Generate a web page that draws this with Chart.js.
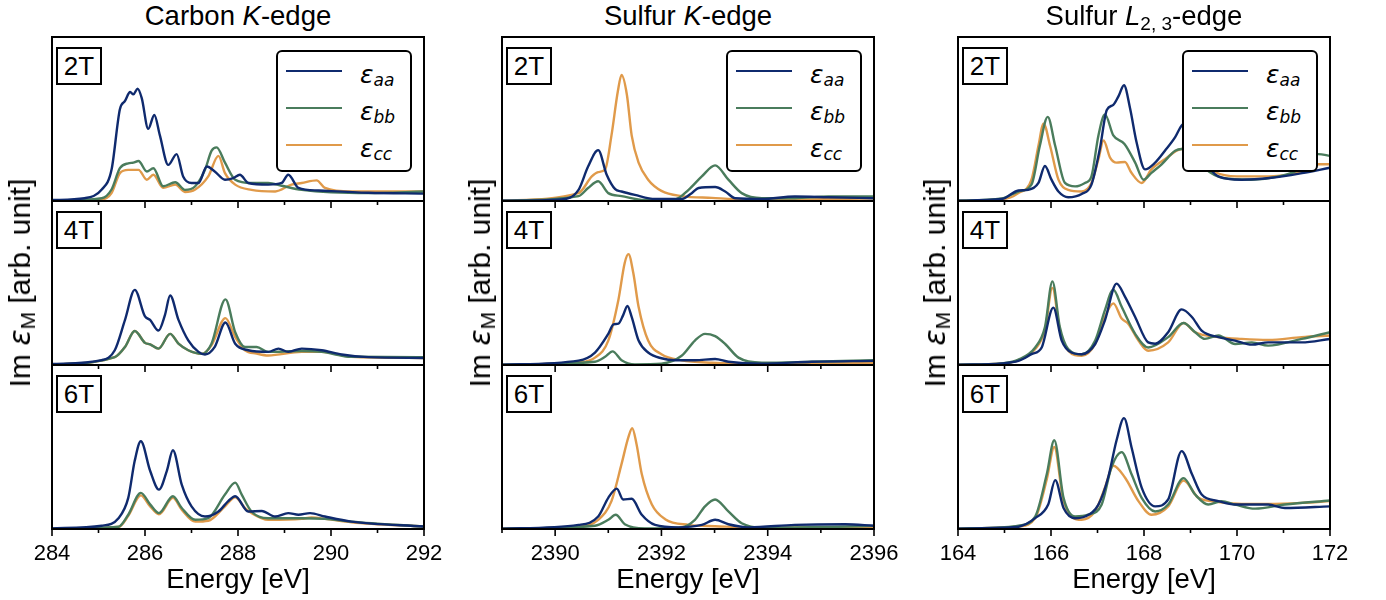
<!DOCTYPE html>
<html>
<head>
<meta charset="utf-8">
<script src="https://cdn.jsdelivr.net/npm/chart.js@4.4.1/dist/chart.umd.min.js"></script>
<style>
  body { margin: 0; background: #fff; }
  #fig { position: relative; width: 1386px; height: 600px; overflow: hidden; background: #fff;
         font-family: "Liberation Sans", Arial, sans-serif; color: #000; }
  #fig canvas { position: absolute; }
  .title { position: absolute; top: 1px; width: 372px; text-align: center; font-size: 27.5px; line-height: 30px; white-space: nowrap; }
  .title .sub { font-size: 19px; vertical-align: -5px; line-height: 1; }
  .ylabel { position: absolute; font-size: 30px; line-height: 32px; white-space: nowrap;
            transform: translate(-50%, -50%) rotate(-90deg); }
  .ylabel .eps { font-family: "DejaVu Sans"; font-style: italic; }
  .ylabel .subM { font-size: 21px; vertical-align: -5px; line-height: 1; }
  .tag { position: absolute; width: 42px; height: 34px; border: 2px solid #000; background: #fff;
         font-size: 26px; line-height: 35px; text-align: center; }
  .legend { position: absolute; width: 132px; height: 118px; border: 2px solid #000; border-radius: 6px; background: #fff; }
  .legend .sw { position: absolute; left: 8px; width: 56px; height: 2.5px; }
  .legend .lab { position: absolute; left: 82px; font-family: "DejaVu Sans"; font-style: italic; font-size: 25px; line-height: 25px; white-space: nowrap; }
  .legend .lab .s { font-size: 17px; vertical-align: -3px; line-height: 1; }
</style>
</head>
<body>
<div id="fig"></div>
<script>
// ---- Carbon K-edge (eV, Im eps) ----
const carbon2T_E_aa = [284.0, 284.7, 285.07, 285.28, 285.46, 285.57, 285.68, 285.75, 285.84, 285.93, 286.07, 286.2, 286.32, 286.5, 286.68, 286.82, 287.0, 287.15, 287.33, 287.5, 287.72, 287.9, 288.04, 288.22, 288.65, 288.94, 289.08, 289.3, 289.73, 290.8, 292.0];
const carbon2T_aa   = [0.6, 1.7, 7, 19, 56, 61, 66.5, 65, 68.5, 62.7, 44, 52.4, 40, 22, 28.6, 15, 11, 11, 21, 18, 13, 14, 16, 11, 10, 11, 16, 8, 6.4, 5, 4.5];
const carbon2T_E_bb = [284.0, 285.07, 285.28, 285.46, 285.64, 285.75, 285.86, 286.04, 286.18, 286.39, 286.65, 286.86, 287.08, 287.29, 287.43, 287.54, 287.72, 287.94, 288.29, 288.65, 288.94, 289.37, 290.8, 292.0];
const carbon2T_bb   = [0.2, 1.7, 7, 20, 23, 23.4, 24.4, 18, 20, 9, 11.4, 6.8, 9, 19, 30.6, 32.7, 23.4, 13, 11, 11, 9.3, 6.8, 4.8, 5.8];
const carbon2T_E_cc = [284.0, 285.07, 285.28, 285.46, 285.64, 285.86, 286.04, 286.18, 286.39, 286.65, 286.86, 287.08, 287.36, 287.58, 287.72, 287.94, 288.29, 288.8, 289.15, 289.37, 289.69, 289.87, 290.44, 292.0];
const carbon2T_cc   = [0.2, 1, 4.8, 17, 19, 19, 13, 16, 8, 10, 5.5, 7, 15, 27.5, 17, 10, 6.8, 5.8, 10, 11, 12.6, 8, 5.8, 5.8];

const carbon4T_E_aa = [284.0, 285.07, 285.35, 285.57, 285.78, 286.0, 286.11, 286.29, 286.43, 286.54, 286.72, 286.93, 287.15, 287.29, 287.5, 287.73, 287.94, 288.22, 288.65, 288.87, 289.08, 289.37, 289.8, 290.23, 290.8, 292.0];
const carbon4T_aa   = [0.6, 3, 9, 27.5, 45.8, 29.6, 27.5, 21, 30.6, 42.4, 27.5, 15, 8, 6.4, 11, 25.9, 13, 9, 8, 10, 8, 10, 9, 6.4, 4.8, 4.3];
const carbon4T_E_bb = [284.0, 285.35, 285.57, 285.78, 286.0, 286.11, 286.29, 286.54, 286.72, 286.93, 287.22, 287.43, 287.73, 287.94, 288.15, 288.4, 288.65, 289.37, 289.8, 290.44, 292.0];
const carbon4T_bb   = [0.2, 4.8, 11, 20.7, 13.5, 12.6, 10, 19, 13, 9, 6.8, 13, 40, 20, 11, 11, 8, 8.5, 8, 5, 4.8];
const carbon4T_E_cc = [284.0, 285.35, 285.57, 285.78, 286.0, 286.11, 286.29, 286.54, 286.72, 286.93, 287.22, 287.43, 287.73, 287.94, 288.15, 288.4, 288.65, 289.37, 289.8, 290.44, 292.0];
const carbon4T_cc   = [0.2, 4.8, 11, 20.7, 13.5, 12.6, 10, 19, 13, 9, 6.8, 12, 28.6, 17, 9, 7, 5.8, 8, 8, 5, 4.3];

const carbon6T_E_aa = [284.0, 285.07, 285.43, 285.64, 285.78, 285.91, 286.11, 286.3, 286.47, 286.6, 286.79, 287.0, 287.29, 287.58, 287.79, 287.94, 288.22, 288.51, 288.8, 289.08, 289.3, 289.55, 289.87, 290.44, 292.0];
const carbon6T_aa   = [0.4, 2, 6.6, 19, 41.7, 53.5, 35.5, 24, 35.5, 48, 27, 13.8, 7.6, 10.7, 17, 20, 10.7, 11, 7.6, 9.7, 8.7, 9.7, 7.6, 4.5, 1.5];
const carbon6T_E_bb = [284.0, 285.43, 285.64, 285.91, 286.11, 286.3, 286.6, 286.79, 287.08, 287.36, 287.72, 287.94, 288.08, 288.29, 288.65, 289.37, 289.87, 290.44, 292.0];
const carbon6T_bb   = [0.2, 1.4, 8.7, 22, 15, 9.7, 20, 12.8, 5.6, 6.6, 21, 28.3, 21, 10.7, 6.6, 6.6, 6.2, 4.5, 1.5];
const carbon6T_E_cc = [284.0, 285.43, 285.64, 285.91, 286.11, 286.3, 286.6, 286.79, 287.08, 287.36, 287.72, 287.94, 288.15, 288.29, 288.65, 289.37, 289.58, 289.87, 290.44, 292.0];
const carbon6T_cc   = [0.2, 1.2, 8, 20.5, 13.8, 9, 19, 11.8, 4.5, 5, 13.8, 19.4, 12.8, 9.7, 5.6, 6.2, 7, 6.2, 4.1, 1.5];

// ---- Sulfur K-edge ----
const sulfK2T_E_aa = [2389.0, 2390.12, 2390.44, 2390.62, 2390.81, 2390.97, 2391.13, 2391.25, 2391.5, 2391.88, 2392.38, 2392.57, 2392.7, 2393.01, 2393.2, 2393.39, 2393.89, 2394.51, 2395.14, 2396.0];
const sulfK2T_aa   = [0.2, 1, 6.8, 21, 31, 16, 7.2, 5.8, 3.7, 1.2, 1.2, 4.8, 7.9, 8.5, 5.8, 1.7, 1.2, 2.7, 2.3, 1.7];
const sulfK2T_E_bb = [2389.0, 2390.44, 2390.62, 2390.81, 2391.0, 2391.25, 2391.69, 2392.26, 2392.51, 2392.76, 2393.01, 2393.26, 2393.51, 2393.89, 2394.51, 2395.14, 2396.0];
const sulfK2T_bb   = [0.2, 3, 7.9, 12, 4.8, 3, 0.6, 1, 6.8, 15, 21.7, 13, 4.8, 1.7, 1.7, 2.7, 2.7];
const sulfK2T_E_cc = [2389.0, 2390.44, 2390.69, 2390.81, 2390.94, 2391.06, 2391.18, 2391.25, 2391.35, 2391.44, 2391.57, 2391.75, 2392.0, 2392.38, 2392.95, 2393.57, 2394.51, 2396.0];
const sulfK2T_cc   = [0.2, 4.8, 15, 17.6, 19.2, 40, 66.9, 76.8, 64.8, 40, 23.4, 13, 6.2, 3, 1.9, 1, 1, 1.7];

const sulfK4T_E_aa = [2389.0, 2390.44, 2390.75, 2391.0, 2391.1, 2391.19, 2391.28, 2391.36, 2391.44, 2391.57, 2391.75, 2392.0, 2392.26, 2392.63, 2393.01, 2393.26, 2393.89, 2394.83, 2396.0];
const sulfK4T_aa   = [0.2, 2.7, 7.6, 19, 24.8, 25.2, 30.4, 36, 29.3, 14.9, 7.6, 4.1, 2.9, 2.9, 3.7, 2, 0.8, 2, 2.5];
const sulfK4T_E_bb = [2389.0, 2390.75, 2390.94, 2391.08, 2391.25, 2391.5, 2392.0, 2392.38, 2392.63, 2392.82, 2393.01, 2393.2, 2393.45, 2393.89, 2394.83, 2396.0];
const sulfK4T_bb   = [0.2, 2, 5, 8.3, 2.9, 0.4, 0.8, 5.6, 14.9, 19, 17.6, 12.8, 4.5, 1.4, 2, 2.9];
const sulfK4T_E_cc = [2389.0, 2390.44, 2390.75, 2391.0, 2391.19, 2391.31, 2391.38, 2391.47, 2391.57, 2391.75, 2392.0, 2392.38, 2392.95, 2393.89, 2396.0];
const sulfK4T_cc   = [0.2, 1.7, 4.5, 14.9, 39.7, 62.4, 67.6, 56.2, 35.5, 14.9, 6.6, 2.9, 1.4, 0.8, 1.4];

const sulfK6T_E_aa = [2389.0, 2390.44, 2390.81, 2391.0, 2391.16, 2391.28, 2391.44, 2391.63, 2391.88, 2392.32, 2392.76, 2393.01, 2393.26, 2393.64, 2394.51, 2395.46, 2396.0];
const sulfK6T_aa   = [0.2, 2.5, 7.6, 19, 24.6, 18, 18.4, 8.7, 2.5, 1, 2.5, 5.6, 2.9, 1, 2.5, 2.9, 2];
const sulfK6T_E_bb = [2389.0, 2390.75, 2391.0, 2391.14, 2391.31, 2391.69, 2392.38, 2392.63, 2392.82, 2393.01, 2393.26, 2393.51, 2393.89, 2395.14, 2396.0];
const sulfK6T_bb   = [0.2, 2, 5.6, 8.7, 2.9, 0.4, 1, 5.6, 13.8, 18, 10.7, 3.5, 0.8, 1.2, 1.9];
const sulfK6T_E_cc = [2389.0, 2390.44, 2390.81, 2391.06, 2391.25, 2391.38, 2391.45, 2391.53, 2391.63, 2391.82, 2392.07, 2392.51, 2393.01, 2393.89, 2396.0];
const sulfK6T_cc   = [0.2, 1.4, 5.6, 17, 39.7, 56.2, 61.4, 52, 33.5, 14.9, 6, 2.5, 1.7, 0.8, 1.4];

// ---- Sulfur L2,3-edge ----
const sulfL2T_E_aa = [164.0, 164.94, 165.3, 165.51, 165.73, 165.87, 166.01, 166.16, 166.37, 166.66, 166.87, 167.05, 167.2, 167.34, 167.45, 167.57, 167.7, 167.84, 168.02, 168.24, 168.45, 168.67, 168.81, 168.95, 169.2, 169.6, 170.1, 170.7, 171.4, 172.0];
const sulfL2T_aa   = [0.2, 1.2, 6.4, 6.8, 11, 21.3, 13, 5.8, 2.3, 4.3, 10, 31.7, 55.5, 58.6, 63.8, 70.6, 56.5, 35.8, 19.3, 23.4, 30.6, 38.9, 46, 48, 30, 15, 13, 14, 17, 20.3];
const sulfL2T_E_bb = [164.0, 164.94, 165.3, 165.58, 165.76, 165.93, 166.09, 166.3, 166.52, 166.73, 166.87, 167.02, 167.16, 167.34, 167.58, 167.81, 167.99, 168.16, 168.38, 168.67, 168.81, 169.0, 169.3, 169.7, 170.3, 170.9, 171.4, 171.75, 172.0];
const sulfL2T_bb   = [0.2, 1.5, 5.8, 10, 33.7, 51.3, 33.7, 11, 8.9, 11, 15, 40, 52.8, 40, 34.8, 23.4, 13, 17.2, 22.4, 30.6, 31.7, 30, 20, 14, 13, 15, 20, 28.6, 27.5];
const sulfL2T_E_cc = [164.0, 164.94, 165.3, 165.58, 165.73, 165.84, 165.98, 166.16, 166.37, 166.66, 166.87, 167.02, 167.13, 167.27, 167.41, 167.59, 167.73, 167.95, 168.16, 168.45, 168.81, 169.1, 169.5, 170.0, 170.7, 171.4, 171.75, 172.0];
const sulfL2T_cc   = [0.2, 1, 4.8, 13, 33.7, 47.2, 33.7, 13, 6.8, 5.8, 11, 25.5, 36.9, 26.5, 23.4, 23.8, 17.2, 11, 19.3, 25.5, 31.7, 27, 18, 15, 15, 18, 22.4, 22.4];

const sulfL4T_E_aa = [164.0, 164.94, 165.3, 165.58, 165.8, 166.05, 166.23, 166.44, 166.66, 166.95, 167.16, 167.41, 167.59, 167.81, 168.09, 168.24, 168.52, 168.81, 169.03, 169.24, 169.6, 169.96, 170.32, 170.67, 171.39, 172.0];
const sulfL4T_aa   = [0.2, 1, 2.5, 6.6, 10.7, 35, 14.9, 7.6, 6.6, 12.8, 27.3, 49.6, 41.7, 29.3, 13.8, 13, 20, 33.9, 29.3, 21, 17, 14.9, 12.4, 13.8, 13.8, 15.9];
const sulfL4T_E_bb = [164.0, 164.94, 165.3, 165.66, 165.87, 166.03, 166.19, 166.37, 166.66, 166.95, 167.16, 167.34, 167.52, 167.81, 168.09, 168.52, 168.85, 169.1, 169.31, 169.6, 169.96, 170.32, 170.67, 171.39, 172.0];
const sulfL4T_bb   = [0.2, 1, 3.3, 10.7, 23.1, 51, 23.1, 9.7, 6.6, 15, 33.5, 45.9, 35.5, 19, 10.7, 17, 25.6, 20, 15.9, 18, 12.8, 13.8, 11.8, 15.9, 20];
const sulfL4T_E_cc = [164.0, 164.94, 165.3, 165.66, 165.87, 166.03, 166.19, 166.37, 166.66, 166.95, 167.16, 167.34, 167.52, 167.66, 167.88, 168.09, 168.52, 168.85, 169.1, 169.6, 170.1, 170.67, 171.39, 172.0];
const sulfL4T_cc   = [0.2, 0.8, 2.9, 9.7, 21.3, 47, 21.3, 8.7, 5.6, 12.8, 29.3, 37.6, 28.3, 25.2, 14.9, 8.7, 13.8, 25.6, 20, 17, 15.9, 15.3, 17, 18];

const sulfL6T_E_aa = [164.0, 164.94, 165.3, 165.66, 165.94, 166.09, 166.27, 166.52, 166.73, 167.02, 167.23, 167.41, 167.57, 167.73, 167.95, 168.24, 168.52, 168.81, 169.03, 169.24, 169.6, 169.96, 170.67, 171.03, 172.0];
const sulfL6T_aa   = [0.2, 0.8, 1.4, 6.6, 14.9, 29.8, 12.8, 6.6, 7.6, 14.9, 31.4, 54.1, 67.6, 50, 25.2, 13.8, 18, 47.5, 33.5, 21, 17, 14.9, 14.9, 12.8, 13.8];
const sulfL6T_E_bb = [164.0, 164.94, 165.3, 165.66, 165.91, 166.07, 166.27, 166.52, 166.8, 167.09, 167.3, 167.52, 167.73, 167.95, 168.24, 168.52, 168.85, 169.1, 169.38, 169.67, 169.96, 170.39, 171.03, 172.0];
const sulfL6T_bb   = [0.2, 1, 2, 7.6, 33.5, 54.1, 19, 7.6, 8.7, 14.9, 37.6, 46.9, 33.5, 19, 10.7, 14.9, 31, 21, 14.9, 17, 14.9, 12.4, 14.9, 17.4];
const sulfL6T_E_cc = [164.0, 164.94, 165.3, 165.66, 165.91, 166.07, 166.27, 166.66, 166.95, 167.16, 167.34, 167.59, 167.88, 168.16, 168.52, 168.85, 169.17, 169.6, 170.1, 170.67, 171.39, 172.0];
const sulfL6T_cc   = [0.2, 0.8, 1.5, 6.6, 30.4, 50, 17, 5.6, 11, 25.2, 38.6, 31.4, 17, 8.7, 13.8, 29.5, 19, 16.5, 15.3, 15.3, 15.9, 17];

const thicknesses = ['2T', '4T', '6T'];
const seriesLabels = ['aa', 'bb', 'cc'];
const lineColors = ['#0f2a6e', '#4a7c5c', '#e09a4a'];

const columns = [
  { title: 'Carbon <i>K</i>-edge', min: 284, max: 292, left: 52,
    panels: [
      [[carbon2T_E_aa, carbon2T_aa], [carbon2T_E_bb, carbon2T_bb], [carbon2T_E_cc, carbon2T_cc]],
      [[carbon4T_E_aa, carbon4T_aa], [carbon4T_E_bb, carbon4T_bb], [carbon4T_E_cc, carbon4T_cc]],
      [[carbon6T_E_aa, carbon6T_aa], [carbon6T_E_bb, carbon6T_bb], [carbon6T_E_cc, carbon6T_cc]]] },
  { title: 'Sulfur <i>K</i>-edge', min: 2389, max: 2396, left: 502,
    panels: [
      [[sulfK2T_E_aa, sulfK2T_aa], [sulfK2T_E_bb, sulfK2T_bb], [sulfK2T_E_cc, sulfK2T_cc]],
      [[sulfK4T_E_aa, sulfK4T_aa], [sulfK4T_E_bb, sulfK4T_bb], [sulfK4T_E_cc, sulfK4T_cc]],
      [[sulfK6T_E_aa, sulfK6T_aa], [sulfK6T_E_bb, sulfK6T_bb], [sulfK6T_E_cc, sulfK6T_cc]]] },
  { title: 'Sulfur <i>L</i><span class="sub">2, 3</span>-edge', min: 164, max: 172, left: 958,
    panels: [
      [[sulfL2T_E_aa, sulfL2T_aa], [sulfL2T_E_bb, sulfL2T_bb], [sulfL2T_E_cc, sulfL2T_cc]],
      [[sulfL4T_E_aa, sulfL4T_aa], [sulfL4T_E_bb, sulfL4T_bb], [sulfL4T_E_cc, sulfL4T_cc]],
      [[sulfL6T_E_aa, sulfL6T_aa], [sulfL6T_E_bb, sulfL6T_bb], [sulfL6T_E_cc, sulfL6T_cc]]] }
];

const rowTops = [37, 201, 365];
const PW = 372, PH = 164, PADX = 30, PADT = 4, XAXIS_H = 72;

Chart.defaults.font.family = "'Liberation Sans', Arial, sans-serif";
Chart.defaults.color = '#000';

// frame + outward bottom ticks (major on even eV)
const frameTicks = {
  id: 'frameTicks',
  afterDatasetsDraw(chart) {
    const { ctx, chartArea: a, scales: { x } } = chart;
    ctx.save();
    ctx.strokeStyle = '#000';
    ctx.lineWidth = 1.6;
    for (let v = Math.ceil(x.min); v <= x.max; v++) {
      const px = x.getPixelForValue(v);
      const len = v % 2 === 0 ? 7 : 4;
      ctx.beginPath();
      ctx.moveTo(px, a.bottom);
      ctx.lineTo(px, a.bottom + len);
      ctx.stroke();
    }
    ctx.lineWidth = 2;
    ctx.strokeRect(a.left, a.top, a.right - a.left, a.bottom - a.top);
    ctx.restore();
  }
};

const fig = document.getElementById('fig');

function addDiv(cls, html, style) {
  const d = document.createElement('div');
  d.className = cls;
  d.innerHTML = html;
  Object.assign(d.style, style);
  fig.appendChild(d);
  return d;
}

columns.forEach((col, c) => {
  col.panels.forEach((series, r) => {
    const bottomRow = r === 2;
    const cv = document.createElement('canvas');
    cv.width = PW + 2 * PADX;
    cv.height = bottomRow ? PADT + PH + XAXIS_H : PADT + PH + 10;
    cv.style.left = (col.left - PADX) + 'px';
    cv.style.top = (rowTops[r] - PADT) + 'px';
    fig.appendChild(cv);

    new Chart(cv, {
      type: 'line',
      data: {
        datasets: series.map((s, k) => ({
          label: seriesLabels[k],
          data: s[0].map((e, i) => ({ x: e, y: s[1][i] })),
          borderColor: lineColors[k],
          borderWidth: 2.4,
          pointRadius: 0,
          cubicInterpolationMode: 'monotone',
          fill: false
        }))
      },
      options: {
        responsive: false,
        animation: false,
        devicePixelRatio: 1,
        layout: { padding: { left: PADX, right: PADX, top: PADT, bottom: bottomRow ? 0 : 10 } },
        plugins: { legend: { display: false }, tooltip: { enabled: false } },
        scales: {
          x: {
            type: 'linear', min: col.min, max: col.max, display: bottomRow,
            grid: { display: false, drawTicks: true, tickLength: 7 },
            border: { display: false },
            ticks: { stepSize: 1, autoSkip: false, maxRotation: 0, padding: 5, color: '#000',
                     font: { size: 22 }, callback: v => (v % 2 === 0 ? String(v) : '') },
            title: { display: true, text: 'Energy [eV]', color: '#000', font: { size: 27.5 },
                     padding: { top: 0, bottom: 4 } },
            afterFit: s => { if (bottomRow) s.height = XAXIS_H; }
          },
          y: { min: 0, max: 100, display: false }
        }
      },
      plugins: [frameTicks]
    });

    addDiv('tag', thicknesses[r], { left: (col.left + 4) + 'px', top: (rowTops[r] + 10) + 'px' });

    if (r === 0) {
      let html = '';
      [20.7, 57.7, 95].forEach((ry, k) => {
        html += `<div class="sw" style="top:${ry - 3.2}px;background:${lineColors[k]}"></div>`;
        html += `<div class="lab" style="top:${ry - 11.2}px">ε<span class="s">${seriesLabels[k]}</span></div>`;
      });
      addDiv('legend', html, { left: (col.left + 224) + 'px', top: (rowTops[0] + 13) + 'px' });
    }
  });

  addDiv('title', col.title, { left: col.left + 'px' });
  const yx = [21, 481, 936][c];
  addDiv('ylabel', 'Im <span class="eps">ε</span><span class="subM">M</span> [arb. unit]',
         { left: yx + 'px', top: '283px' });
});
</script>
</body>
</html>
